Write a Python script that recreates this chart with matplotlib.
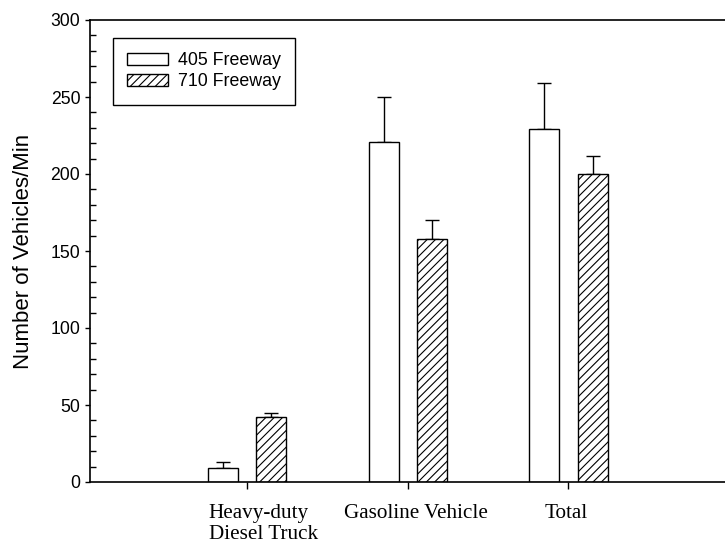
import numpy as np
import matplotlib
matplotlib.use("Agg")
import matplotlib.pyplot as plt
from matplotlib.ticker import MultipleLocator
from matplotlib.transforms import ScaledTranslation

categories = ["Heavy-duty\nDiesel Truck", "Gasoline Vehicle", "Total"]
freeway_405 = [9, 221, 229]
freeway_405_err = [4, 29, 30]
freeway_710 = [42, 158, 200]
freeway_710_err = [3, 12, 12]

plt.rcParams['font.family'] = ['Liberation Sans', 'DejaVu Sans']
plt.rcParams['hatch.linewidth'] = 0.8

fig = plt.figure(figsize=(7.25, 5.47), dpi=100)
ax = fig.add_axes([90 / 725, 65 / 547, 639 / 725, 462 / 547])

x = np.arange(len(categories))
w = 0.187
off = 0.15

ax.bar(x - off, freeway_405, w, color="white", edgecolor="black", linewidth=1,
       label="405 Freeway", zorder=2)
ax.bar(x + off, freeway_710, w, color="white", edgecolor="black", linewidth=1,
       hatch="////", label="710 Freeway", zorder=2)

# only the upper half of the error bars is drawn
ax.errorbar(x - off, freeway_405, yerr=[np.zeros(3), freeway_405_err], fmt="none",
            ecolor="black", elinewidth=1, capsize=5, capthick=1, zorder=1)
ax.errorbar(x + off, freeway_710, yerr=[np.zeros(3), freeway_710_err], fmt="none",
            ecolor="black", elinewidth=1, capsize=5, capthick=1, zorder=1)

ax.set_xlim(-0.98, 3.0)
ax.set_ylim(0, 300)
ax.yaxis.set_major_locator(MultipleLocator(50))
ax.yaxis.set_minor_locator(MultipleLocator(10))
ax.tick_params(axis="y", which="major", direction="out", length=3.5, width=1,
               labelsize=12.7, pad=3.5)
ax.tick_params(axis="y", which="minor", direction="in", length=4, width=1)
ax.set_xticks(x)
ax.set_xticklabels(categories, fontsize=15.2, family=["Liberation Serif"],
                   multialignment="left", linespacing=1.2)
ax.tick_params(axis="x", direction="out", length=5, width=1, pad=10.5)

shifts = [16, 8, -2]
for lbl, dx in zip(ax.get_xticklabels(), shifts):
    lbl.set_transform(lbl.get_transform() + ScaledTranslation(dx / 100, 0, fig.dpi_scale_trans))

ax.set_ylabel("Number of Vehicles/Min", fontsize=16)
ax.yaxis.set_label_coords(-0.088, 0.5)

for side in ["left", "bottom", "top"]:
    ax.spines[side].set_linewidth(1.2)
ax.spines["right"].set_visible(False)

leg = ax.legend(loc="upper left", bbox_to_anchor=((113 - 90) / 639, (482 - 38) / 462),
                borderaxespad=0, fontsize=12.8, frameon=True, fancybox=False,
                edgecolor="black", framealpha=1, handlelength=2.3, handleheight=0.67,
                handletextpad=0.56, labelspacing=0.24, borderpad=0.8)
leg.get_frame().set_linewidth(1)

fig.savefig("out.png", dpi=100)
